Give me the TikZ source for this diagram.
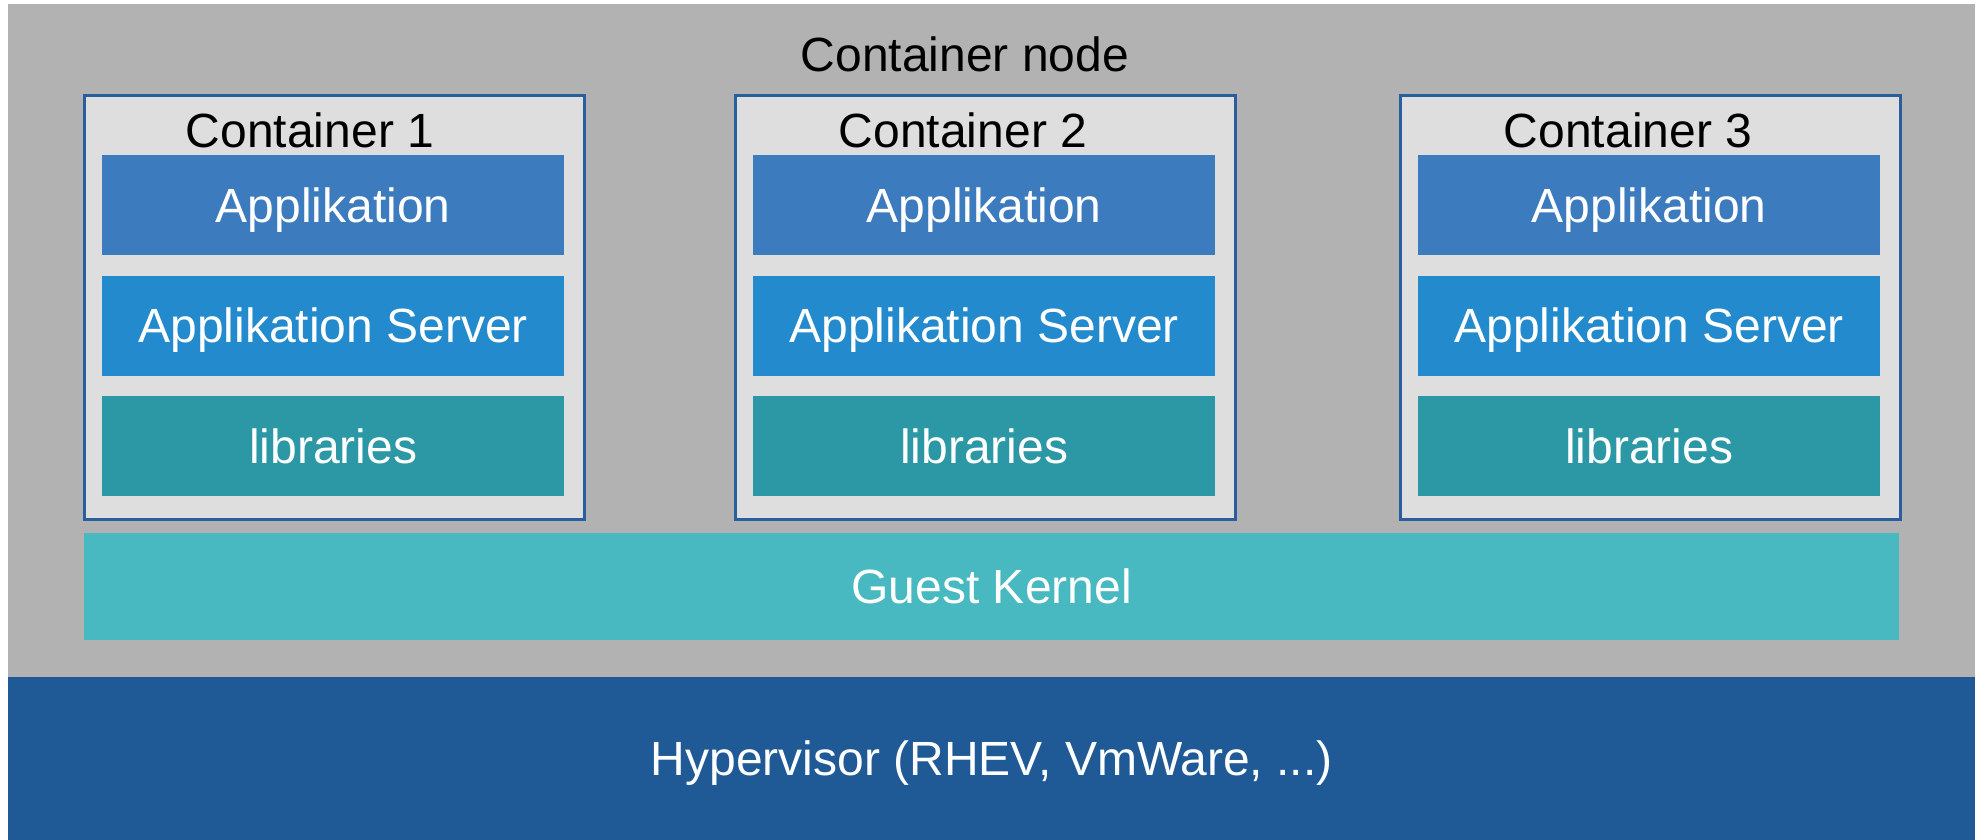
\documentclass[tikz,border=0pt]{standalone}
\usepackage{fontspec}
\setmainfont{Liberation Sans}
\definecolor{bggray}{HTML}{B2B2B2}
\definecolor{cfill}{HTML}{DEDEDE}
\definecolor{cborder}{HTML}{2A5D9C}
\definecolor{appc}{HTML}{3D7BBF}
\definecolor{serverc}{HTML}{238BCD}
\definecolor{libc}{HTML}{2C98A6}
\definecolor{kernelc}{HTML}{48B9C0}
\definecolor{hyperc}{HTML}{1F5A96}
\tikzset{
  txt/.style={font=\fontsize{48}{56}\selectfont},
  layer/.style={txt, text=white, inner sep=0pt, text height=34.4pt, text depth=0pt, anchor=north west},
  contbox/.style={draw=cborder, line width=2.6pt, fill=cfill},
  lbl/.style={txt, text=black, anchor=base, inner sep=0pt}
}
\begin{document}
\begin{tikzpicture}[x=1pt,y=-1pt]
\useasboundingbox (0,0) rectangle (1986,840);
\fill[white] (0,0) rectangle (1986,840);
% container node background
\node[fill=bggray, inner sep=0pt, minimum width=1967pt, minimum height=673.5pt, anchor=north west] (cnode) at (8,3.5) {};
\node[lbl] (cnodelbl) at (965,72) {Container node};
% hypervisor
\node[layer, fill=hyperc, minimum width=1967pt, minimum height=163pt] (hyper) at (8,677) {Hypervisor (RHEV, VmWare, ...)};
% guest kernel
\node[layer, fill=kernelc, minimum width=1815pt, minimum height=107pt] (kernel) at (84,533) {Guest Kernel};
% containers
\foreach \i/\cx/\ix/\lx in {1/83/102/310, 2/734/753/963, 3/1399/1418/1628}{
  \node[contbox, inner sep=0pt, minimum width=500pt, minimum height=424pt, anchor=north west] (c\i) at (\cx,94) {};
  \node[lbl] (c\i lbl) at (\lx,147) {Container \i};
  \node[layer, fill=appc, minimum width=462pt, minimum height=100pt] (c\i app) at (\ix,155) {Applikation};
  \node[layer, fill=serverc, minimum width=462pt, minimum height=100pt] (c\i srv) at (\ix,275.5) {Applikation Server};
  \node[layer, fill=libc, minimum width=462pt, minimum height=100pt] (c\i lib) at (\ix,396) {libraries};
}
\end{tikzpicture}
\end{document}
